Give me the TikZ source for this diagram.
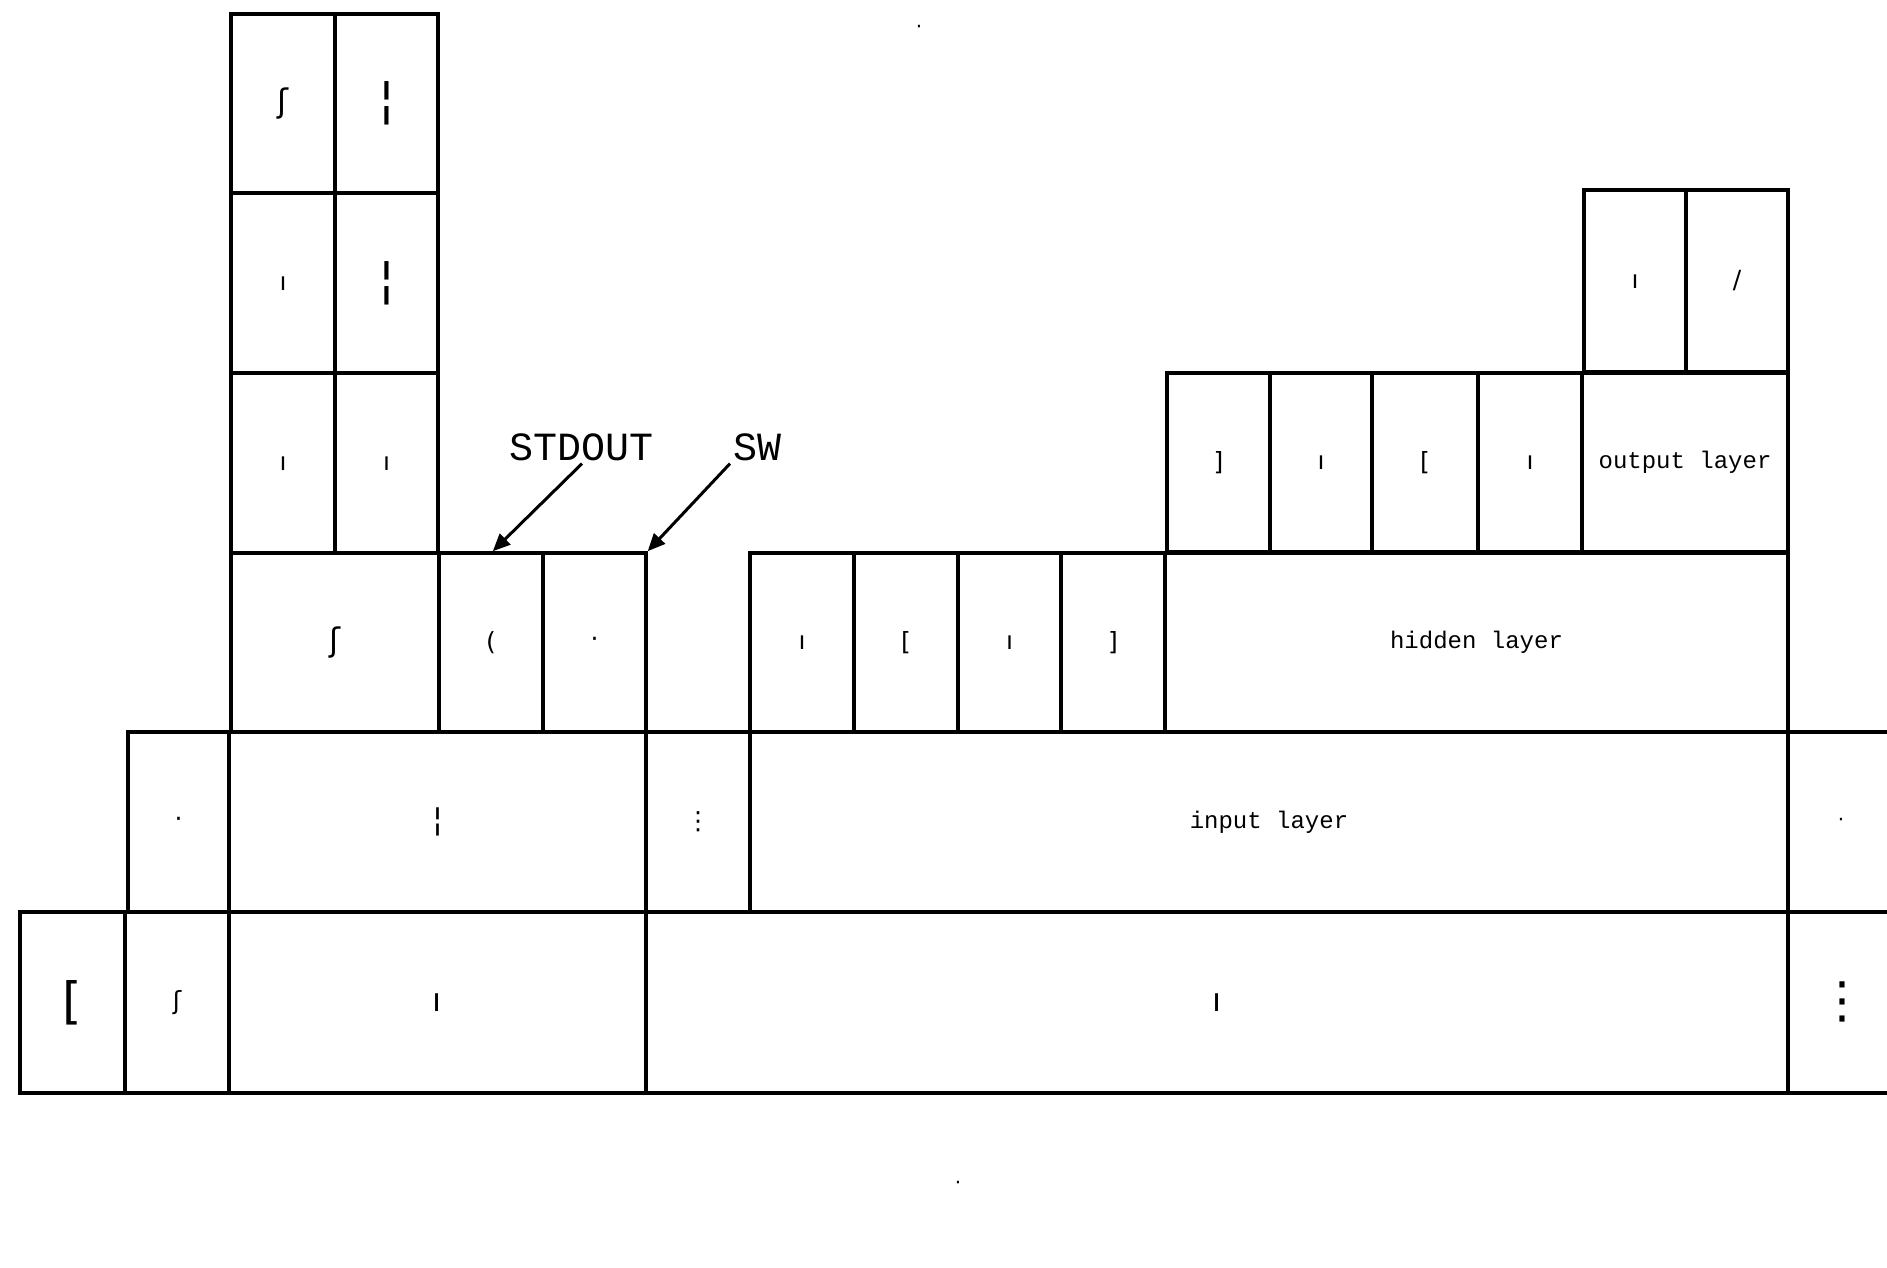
\documentclass[tikz,border=0pt]{standalone}
\usepackage{fontspec}
\setmonofont{Liberation Mono}
\newfontfamily\glyphfont{DejaVu Sans}
\usetikzlibrary{arrows.meta}
\newcommand\cell[7][]{\node[cellbox,#1, minimum width={(#5-#3)*0.4pt}, minimum height={(#6-#4)*0.4pt}] (#2) at ({(#3+#5)/2},{(#4+#6)/2}) {#7};}
\begin{document}
\begin{tikzpicture}[x=0.4pt,y=-0.4pt,
 cellbox/.style={draw=black, line width=1.6pt, inner sep=0pt, outer sep=0pt, font=\glyphfont\fontsize{10}{10}\selectfont},
 midglyph/.style={font=\glyphfont\fontsize{13}{13}\selectfont},
 tallglyph/.style={font=\glyphfont\fontsize{20}{20}\selectfont},
 layertext/.style={font=\ttfamily\fontsize{9.6}{10}\selectfont},
 calltext/.style={font=\ttfamily\fontsize{16}{16}\selectfont, inner sep=1pt},
 callarrow/.style={line width=1.2pt, -{Triangle[length=7pt,width=6pt]}, shorten >=1pt},
 marktext/.style={font=\glyphfont\fontsize{8}{8}\selectfont, inner sep=0pt}]
\useasboundingbox (0,0) rectangle (1887,1267);
\clip (0,0) rectangle (1887,1267);
% top-left column
\cell[midglyph]{tla}{231}{14}{335}{193}{ʃ}
\cell[tallglyph]{tlb}{335}{14}{438}{193}{¦}
\cell{tlc}{231}{193}{335}{373}{ı}
\cell[tallglyph]{tld}{335}{193}{438}{373}{¦}
\cell{tle}{231}{373}{335}{553}{ı}
\cell{tlf}{335}{373}{438}{553}{ı}
% row 553-732
\cell[midglyph]{ra}{231}{553}{439}{732}{ʃ}
\cell{rb}{439}{553}{543}{732}{(}
\cell{rc}{543}{553}{646}{732}{·}
\cell{rd}{750}{553}{854}{732}{ı}
\cell{re}{854}{553}{958}{732}{[}
\cell{rf}{958}{553}{1061}{732}{ı}
\cell{rg}{1061}{553}{1165}{732}{]}
\cell[layertext]{hidden}{1165}{553}{1788}{732}{hidden layer}
% row 373-552
\cell{oa}{1167}{373}{1270}{552}{]}
\cell{ob}{1270}{373}{1372}{552}{ı}
\cell{oc}{1372}{373}{1478}{552}{[}
\cell{od}{1478}{373}{1582}{552}{ı}
\cell[layertext]{output}{1582}{373}{1788}{552}{output layer}
% top right
\cell{ta}{1584}{190}{1686}{372}{ı}
\cell{tb}{1686}{190}{1788}{372}{/}
% row 732-912
\cell{ia}{128}{732}{229}{912}{·}
\cell[midglyph]{ib}{229}{732}{646}{912}{¦}
\cell{ic}{646}{732}{750}{912}{⋮}
\cell[layertext]{input}{750}{732}{1788}{912}{input layer}
\cell{ie}{1788}{732}{1900}{912}{}
\node[marktext] (iemark) at (1841,822) {·};
% bottom row
\cell[tallglyph]{ba}{20}{912}{125}{1093}{[}
\cell{bb}{125}{912}{229}{1093}{ʃ}
\cell[midglyph]{bc}{229}{912}{646}{1093}{ı}
\cell[midglyph]{bd}{646}{912}{1788}{1093}{ı}
\cell{be}{1788}{912}{1900}{1093}{}
\node[tallglyph] (bemark) at (1842,1002) {⋮};
% stray marks
\node[marktext] (dota) at (958,1185) {·};
\node[marktext] (dotb) at (919,29) {·};
% callouts
\node[calltext] (stdout) at (582,447) {STDOUT};
\node[calltext] (sw) at (757,447) {SW};
\draw[callarrow] (stdout.south) -- (rb.north);
\draw[callarrow] (sw.south west) -- (rc.north east);
\end{tikzpicture}
\end{document}
